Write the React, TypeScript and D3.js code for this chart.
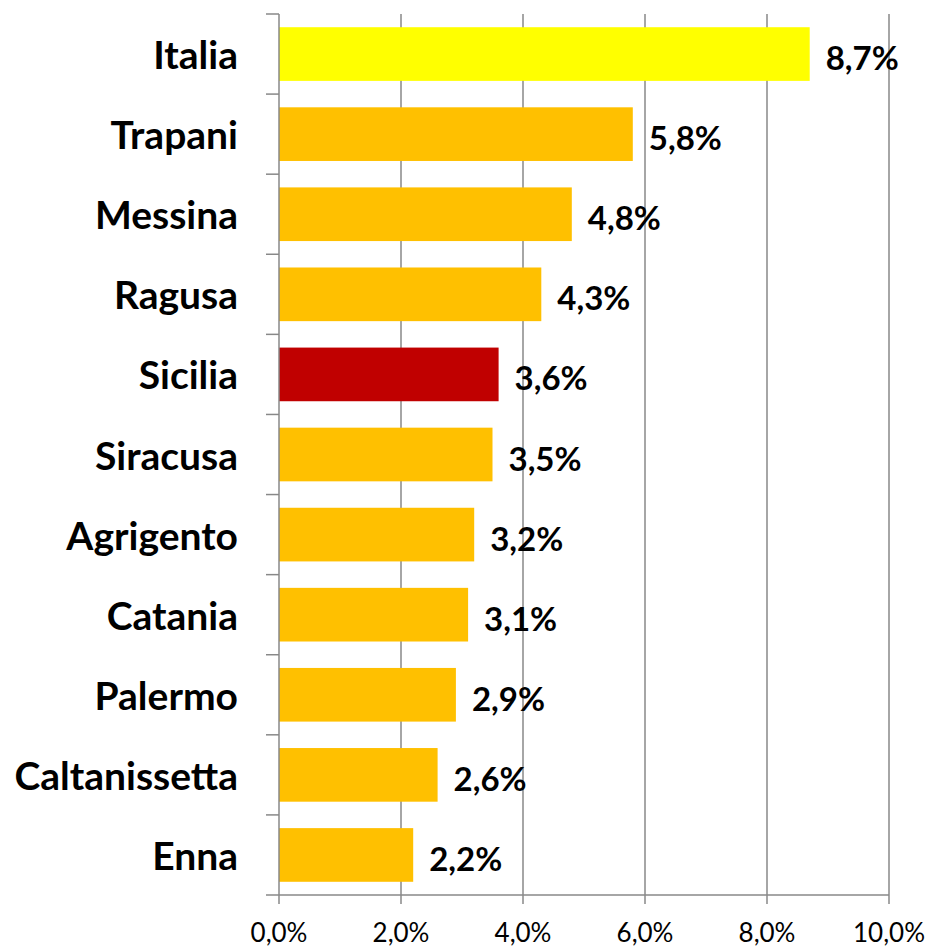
import React from "react";
import * as d3 from "d3";

const categories = ["Italia", "Trapani", "Messina", "Ragusa", "Sicilia", "Siracusa", "Agrigento", "Catania", "Palermo", "Caltanissetta", "Enna"];
const values = [8.7, 5.8, 4.8, 4.3, 3.6, 3.5, 3.2, 3.1, 2.9, 2.6, 2.2];
const barColors = ["#FFFF00", "#FFC000", "#FFC000", "#FFC000", "#C00000", "#FFC000", "#FFC000", "#FFC000", "#FFC000", "#FFC000", "#FFC000"];
const xTicks = [0, 2, 4, 6, 8, 10];

const W = 928, H = 946;
const M = { left: 279, right: 39, top: 14, bottom: 51 };
const FONT = "Lato, 'Open Sans', sans-serif";

const fmt = (v: number) => v.toFixed(1).replace(".", ",") + "%";

export default function App() {
  const x = d3.scaleLinear().domain([0, 10]).range([M.left, W - M.right]);
  const y = d3.scaleBand<string>().domain(categories).range([M.top, H - M.bottom]).paddingInner(0.33).paddingOuter(0.165);
  const step = y.step();
  const bottom = H - M.bottom;
  return (
    <svg width={W} height={H} style={{ position: "absolute", left: 0, top: 0 }} fontFamily={FONT}>
      {xTicks.slice(1).map((t) => (
        <line key={"g" + t} x1={x(t)} x2={x(t)} y1={M.top} y2={bottom} stroke="#888" strokeWidth={1.5} />
      ))}
      {categories.map((c, i) => (
        <rect key={c} x={x(0)} y={y(c)!} width={x(values[i]) - x(0)} height={y.bandwidth()} fill={barColors[i]} />
      ))}
      {/* y axis */}
      <line x1={x(0)} x2={x(0)} y1={M.top} y2={bottom} stroke="#888" strokeWidth={1.5} />
      {d3.range(categories.length + 1).map((i) => (
        <line key={"yt" + i} x1={x(0) - 13} x2={x(0)} y1={M.top + i * step} y2={M.top + i * step} stroke="#888" strokeWidth={1.5} />
      ))}
      {/* x axis */}
      <line x1={x(0)} x2={x(10)} y1={bottom} y2={bottom} stroke="#888" strokeWidth={1.5} />
      {xTicks.map((t) => (
        <line key={"xt" + t} x1={x(t)} x2={x(t)} y1={bottom} y2={bottom + 9} stroke="#888" strokeWidth={1.5} />
      ))}
      {xTicks.map((t) => (
        <text key={"xl" + t} x={x(t)} y={942} textAnchor="middle" fontSize={26} fill="#000">
          {fmt(t)}
        </text>
      ))}
      {categories.map((c) => (
        <text key={"cl" + c} x={238} y={y(c)! + y.bandwidth() / 2} textAnchor="end" dominantBaseline="central" fontSize={39} fontWeight="bold" fill="#000">
          {c}
        </text>
      ))}
      {categories.map((c, i) => (
        <text key={"vl" + c} x={x(values[i]) + 16} y={y(c)! + y.bandwidth() / 2 + 3} textAnchor="start" dominantBaseline="central" fontSize={33} fontWeight="bold" fill="#000">
          {fmt(values[i])}
        </text>
      ))}
    </svg>
  );
}
